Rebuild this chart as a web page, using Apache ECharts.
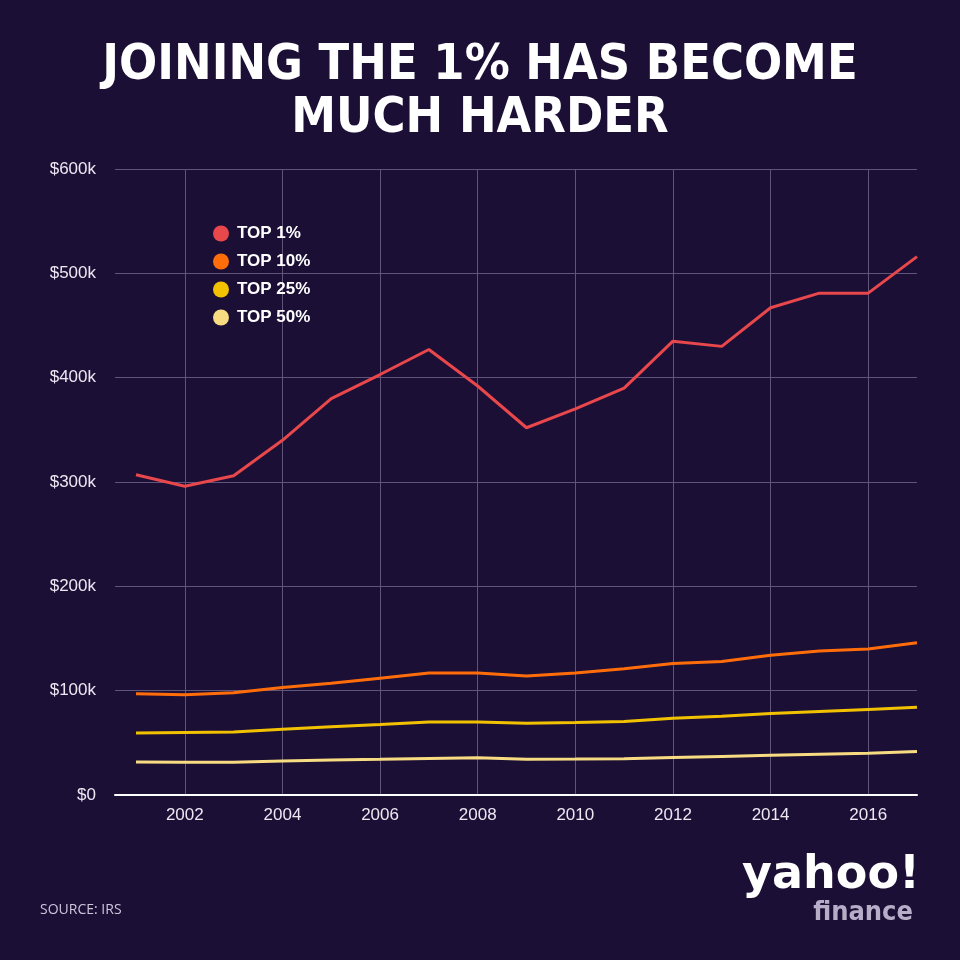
<!DOCTYPE html>
<html>
<head>
<meta charset="utf-8">
<script src="https://cdn.jsdelivr.net/npm/echarts@6/dist/echarts.min.js"></script>
<style>
html,body{margin:0;padding:0;background:#1c0f36;}
#c{width:960px;height:960px;}
</style>
</head>
<body>
<div id="c"></div>
<script>
const years = [2001,2002,2003,2004,2005,2006,2007,2008,2009,2010,2011,2012,2013,2014,2015,2016,2017];
const top1  = [307,296,306,340,380,403,427,392,352,370,390,435,430,467,481,481,516];
const top10 = [97,96,98,103,107,112,117,117,114,117,121,126,128,134,138,140,146];
const top25 = [59.4,60,60.3,63,65.5,67.5,70,70,68.8,69.5,70.5,73.5,75.5,78,80,82,84];
const top50 = [31.6,31.5,31.5,32.6,33.5,34.2,35,35.6,34.2,34.4,34.8,36,37,38,39,40,41.8];
const seriesNames = ['TOP 1%','TOP 10%','TOP 25%','TOP 50%'];
const colors = ['#e8474b','#ff6d0a','#f2c200','#f8dc82'];

const chart = echarts.init(document.getElementById('c'), null, {renderer:'canvas'});
const toPairs = arr => arr.map((v,i)=>[years[i], v*1000]);
const allSeries = [top1, top10, top25, top50];

chart.setOption({
  backgroundColor:'#1c0f36',
  animation:false,
  title:{
    text:'JOINING THE 1% HAS BECOME\nMUCH HARDER',
    left:'center', top:35,
    textStyle:{color:'#ffffff', fontSize:50, fontWeight:'bold', lineHeight:53,
      fontFamily:'"Liberation Sans Narrow","DejaVu Sans Condensed","Open Sans",sans-serif'}
  },
  legend:{
    data:seriesNames, orient:'vertical', left:208, top:220,
    icon:'circle', itemWidth:16, itemHeight:16, itemGap:11,
    textStyle:{color:'#ffffff', fontSize:17, fontWeight:'bold', padding:[0,0,0,3], fontFamily:'"Liberation Sans",Arial,sans-serif'}
  },
  grid:{left:115, right:43, top:169, bottom:165, containLabel:false},
  xAxis:{
    type:'value', min:2000.57, max:2017, minInterval:2, maxInterval:2,
    axisLine:{show:true, lineStyle:{color:'#ffffff', width:2}},
    axisTick:{show:false},
    axisLabel:{color:'#ece8f2', fontSize:17, margin:12, showMinLabel:false, showMaxLabel:false,
      fontFamily:'"Liberation Sans",Arial,sans-serif',
      formatter: v => (Math.abs(v - Math.round(v))<1e-6 && Math.round(v)%2===0) ? String(Math.round(v)) : ''},
    splitLine:{show:true, showMinLine:false, showMaxLine:false, lineStyle:{color:'#5f5579', width:1}}
  },
  yAxis:{
    type:'value', min:0, max:600000, interval:100000,
    axisLine:{show:false}, axisTick:{show:false},
    axisLabel:{color:'#ece8f2', fontSize:17, margin:19, fontFamily:'"Liberation Sans",Arial,sans-serif',
      formatter: v => v===0 ? '$0' : '$' + (v/1000) + 'k'},
    splitLine:{show:true, lineStyle:{color:'#5f5579', width:1}}
  },
  series: seriesNames.map((n,i)=>({
    name:n, type:'line', data:toPairs(allSeries[i]), symbol:'none',
    lineStyle:{color:colors[i], width:3}, itemStyle:{color:colors[i]}, z: 10-i
  })),
  graphic:[
    {type:'text', left:40, top:903, style:{text:'SOURCE: IRS', fill:'#cdc6dc', fontSize:14, fontFamily:'"Open Sans","Liberation Sans",sans-serif'}},
    {type:'text', right:40, top:853, style:{text:'yahoo!', fill:'#ffffff', fontSize:46, fontWeight:'bold', fontFamily:'"DejaVu Sans","Open Sans",sans-serif'}},
    {type:'text', right:47, top:899, style:{text:'finance', fill:'#b6aec8', fontSize:27, fontWeight:'bold', fontFamily:'"DejaVu Sans Condensed","DejaVu Sans",sans-serif'}}
  ]
});
</script>
</body>
</html>
